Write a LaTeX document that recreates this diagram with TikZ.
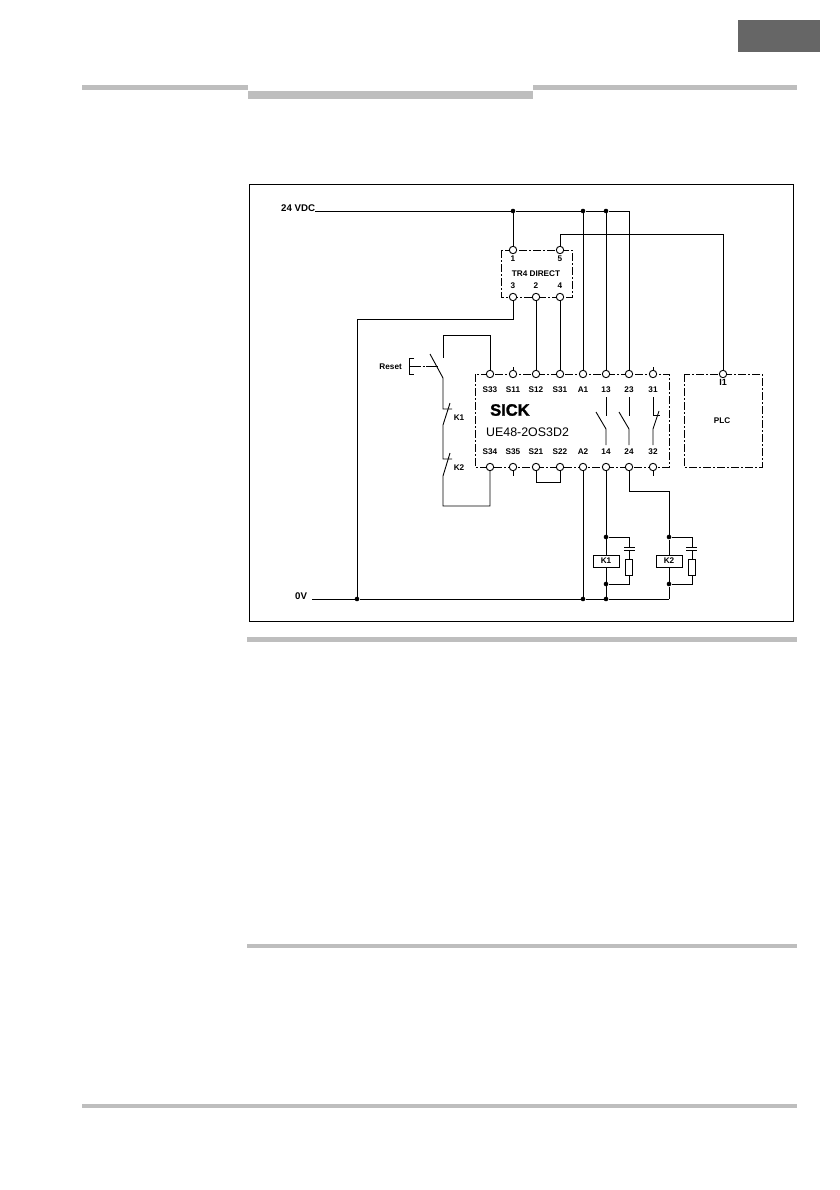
\documentclass[tikz,border=0pt]{standalone}
\usepackage{fontspec}
\setmainfont{Liberation Sans}
\newfontfamily\logofont[BoldFeatures={FakeBold=1.6}]{Liberation Sans}
\usetikzlibrary{positioning}
\definecolor{barGrey}{HTML}{BEBEBE}
\definecolor{tabGrey}{HTML}{666666}
\tikzset{
  term/.style={circle,draw=black,fill=white,line width=0.9pt,inner sep=0pt,minimum size=7.4pt},
  jdot/.style={circle,fill=black,inner sep=0pt,minimum size=4.6pt},
  lbl/.style={font=\fontsize{8.2}{9}\selectfont\bfseries,inner sep=0pt},
  wire/.style={line width=0.9pt},
  chain/.style={line width=0.8pt,dash pattern=on 8pt off 2pt on 2pt off 2pt},
  relay/.style={draw=black,fill=white,line width=0.9pt,inner sep=0pt},
}
\begin{document}
\begin{tikzpicture}[x=1pt,y=-1pt]
\useasboundingbox (0,0) rectangle (839,1190);
\fill[white] (0,0) rectangle (839,1190);
\fill[tabGrey] (738,20) rectangle (820,52);
\fill[barGrey] (82,85) rectangle (248,90);
\fill[barGrey] (248,91) rectangle (533,99);
\fill[barGrey] (533,85) rectangle (797,90);
\fill[barGrey] (247,637) rectangle (797,642);
\fill[barGrey] (247,944) rectangle (797,948);
\fill[barGrey] (82,1104) rectangle (797,1108);
\draw[line width=0.9pt] (249,184) rectangle (793.5,621.5);

\node[lbl,font=\fontsize{9.7}{11}\selectfont\bfseries,anchor=west] (vdc) at (281,208) {24 VDC};
\node[lbl,font=\fontsize{9.7}{11}\selectfont\bfseries,anchor=west] (zerov) at (295,596) {0V};
\coordinate (vdcL) at (315,211);
\coordinate (zeroL) at (312,599);
\node[jdot] (d1) at (513,211) {};
\node[jdot] (d2) at (583,211) {};
\node[jdot] (d3) at (606,211) {};
\coordinate (vdcR) at (629,211);
\node[jdot] (g1) at (357,599) {};
\node[jdot] (g2) at (583,599) {};
\node[jdot] (g3) at (606,599) {};

\draw[chain] (501,250) rectangle (572,297);
\draw[chain] (475,374) rectangle (669,467);
\draw[chain] (684,374) rectangle (762,467);

\node[term] (tr1) at (513,250) {};
\node[term] (tr5) at (560,250) {};
\node[term] (tr3) at (513,297) {};
\node[term] (tr2) at (536,297) {};
\node[term] (tr4) at (560,297) {};
\node[lbl] at (513,259) {1};
\node[lbl] at (560,259) {5};
\node[lbl] at (513,286) {3};
\node[lbl] at (536,286) {2};
\node[lbl] at (560,286) {4};
\node[lbl] (trname) at (536,274) {TR4 DIRECT};

\node[term] (s33) at (490,374) {};
\node[term] (s11) at (513,374) {};
\node[term] (s12) at (536,374) {};
\node[term] (s31) at (560,374) {};
\node[term] (a1) at (583,374) {};
\node[term] (t13) at (606,374) {};
\node[term] (t23) at (629,374) {};
\node[term] (t31) at (653,374) {};
\node[term] (s34) at (490,467) {};
\node[term] (s35) at (513,467) {};
\node[term] (s21) at (536,467) {};
\node[term] (s22) at (560,467) {};
\node[term] (a2) at (583,467) {};
\node[term] (t14) at (606,467) {};
\node[term] (t24) at (629,467) {};
\node[term] (t32) at (653,467) {};
\node[term] (plcin) at (723,374) {};

\node[lbl] at (490,390) {S33};
\node[lbl] at (513,390) {S11};
\node[lbl] at (536,390) {S12};
\node[lbl] at (560,390) {S31};
\node[lbl] at (583,390) {A1};
\node[lbl] at (606,390) {13};
\node[lbl] at (629,390) {23};
\node[lbl] at (653,390) {31};
\node[lbl] at (490,452) {S34};
\node[lbl] at (513,452) {S35};
\node[lbl] at (536,452) {S21};
\node[lbl] at (560,452) {S22};
\node[lbl] at (583,452) {A2};
\node[lbl] at (606,452) {14};
\node[lbl] at (629,452) {24};
\node[lbl] at (653,452) {32};
\node[lbl,font=\fontsize{9}{10}\selectfont\bfseries] at (723,382) {I1};
\node[lbl] (plc) at (722,421) {PLC};
\node[lbl,font=\fontsize{16.5}{18}\logofont\bfseries,anchor=west] (sick) at (490,410) {SICK};
\node[lbl,font=\fontsize{12.4}{14}\selectfont,anchor=west] (ue) at (486,432) {UE48-2OS3D2};
\node[lbl,anchor=east] (reset) at (402,367) {Reset};
\node[lbl] (kone) at (459,418) {K1};
\node[lbl] (ktwo) at (459,468) {K2};

\draw[wire] (vdcL) -- (d1) -- (d2) -- (d3) -- (vdcR) -- (t23);
\draw[wire] (d1) -- (tr1);
\draw[wire] (d2) -- (a1);
\draw[wire] (d3) -- (t13);
\draw[wire] (tr5) |- (723,234) -- (plcin);
\draw[wire] (tr2) -- (s12);
\draw[wire] (tr4) -- (s31);
\draw[wire] (tr3) |- (357,319) -- (g1);
\draw[wire] (zeroL) -- (g1) -- (g2) -- (g3) -- (669,599);
\draw[wire] (a2) -- (g2);
\draw[wire] (t14) -- (g3);
\draw[wire] (s21) |- (560,482) -- (s22);
\draw[wire] (s11) -- (513,367);
\draw[wire] (s35) -- (513,476);
\draw[wire] (t31) -- (653,367);
\draw[wire] (t32) -- (653,476);

\draw[wire] (s33) |- (443,335) -- (443,358);
\draw[wire] (430,354) -- (443,378) -- (443,409) -- (452,409);
\draw[wire] (450,403) -- (443,425) -- (443,459) -- (452,459);
\draw[wire] (450,453) -- (443,476) -- (443,506) -- (490,506) -- (s34);
\draw[wire] (414,358) -- (409,358) -- (409,374) -- (414,374);
\draw[line width=0.8pt,dash pattern=on 12pt off 1.5pt on 2pt off 1.5pt] (409,366) -- (438,366);

\draw[wire] (606,397) -- (606,416);
\draw[wire] (596,412) -- (606,429) -- (606,445);
\draw[wire] (629,397) -- (629,416);
\draw[wire] (619,412) -- (629,429) -- (629,445);
\draw[wire] (653,397) -- (653,415) -- (660,415);
\draw[wire] (659,411) -- (653,429) -- (653,445);

\node[relay,minimum width=26pt,minimum height=12pt,font=\fontsize{8.2}{9}\selectfont\bfseries] (kcoila) at (606,561) {K1};
\node[relay,minimum width=26pt,minimum height=12pt,font=\fontsize{8.2}{9}\selectfont\bfseries] (kcoilb) at (669,561) {K2};
\node[jdot] (ka) at (606,537) {};
\node[jdot] (kb) at (606,584) {};
\node[jdot] (kc) at (669,537) {};
\node[jdot] (kd) at (669,584) {};
\node[relay,minimum width=7pt,minimum height=16pt] (ra) at (629,567) {};
\node[relay,minimum width=7pt,minimum height=16pt] (rb) at (692,567) {};
\draw[wire] (g3) -- (kb) -- (kcoila) -- (ka);
\draw[wire] (669,599) -- (kd) -- (kcoilb) -- (kc) -- (669,491) -- (629,491) -- (t24);
\draw[wire] (ka) -| (629,547);
\draw[wire] (624,547) -- (635,547);
\draw[wire] (624,550) -- (635,550);
\draw[wire] (629,550) -- (ra);
\draw[wire] (ra) |- (kb);
\draw[wire] (kc) -| (692,547);
\draw[wire] (686,547) -- (697,547);
\draw[wire] (686,550) -- (697,550);
\draw[wire] (692,550) -- (rb);
\draw[wire] (rb) |- (kd);

\end{tikzpicture}
\end{document}
